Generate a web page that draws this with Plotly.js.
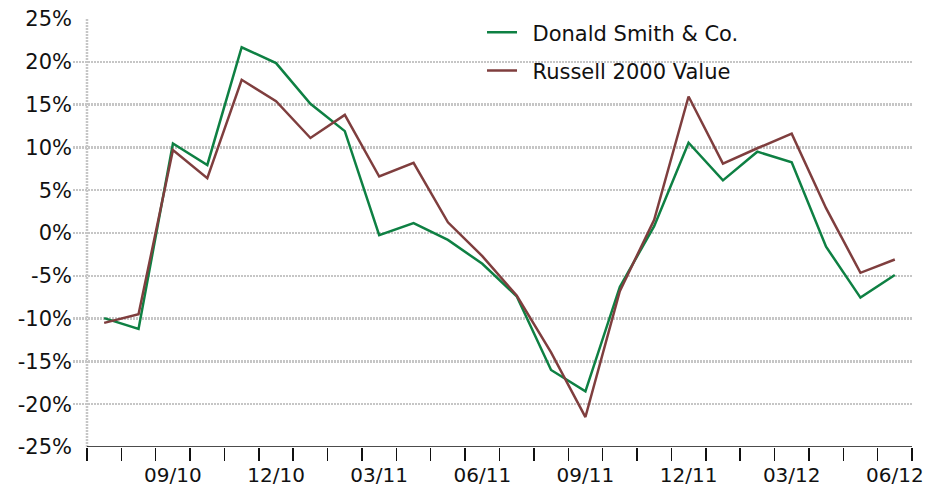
<!DOCTYPE html>
<html>
<head>
<meta charset="utf-8">
<script src="https://cdn.plot.ly/plotly-3.0.1.min.js"></script>
<style>html,body{margin:0;padding:0;background:#fff}#chart{width:927px;height:487px}</style>
</head>
<body>
<div id="chart"></div>
<script>
// Month-end periods (Jul 2010 .. Jun 2012)
const periods = ['07/10','08/10','09/10','10/10','11/10','12/10','01/11','02/11','03/11','04/11','05/11','06/11',
                 '07/11','08/11','09/11','10/11','11/11','12/11','01/12','02/12','03/12','04/12','05/12','06/12'];
const donaldSmith = [-9.95,-11.2,10.45,7.95,21.7,19.85,15.1,11.9,-0.25,1.15,-0.8,-3.6,
                     -7.4,-16.0,-18.5,-6.3,0.8,10.55,6.15,9.5,8.25,-1.6,-7.55,-4.9];
const russell2000Value = [-10.5,-9.5,9.7,6.4,17.9,15.4,11.1,13.8,6.6,8.2,1.25,-2.7,
                          -7.3,-13.95,-21.5,-6.8,1.55,15.95,8.1,9.9,11.6,2.9,-4.65,-3.1];
const xTickLabels = ['09/10','12/10','03/11','06/11','09/11','12/11','03/12','06/12'];
const yTickValues = [-25,-20,-15,-10,-5,0,5,10,15,20,25];
const seriesNames = ['Donald Smith & Co.','Russell 2000 Value'];

const xPos = periods.map((p, i) => i + 0.5);
const xLabelPos = xTickLabels.map(t => periods.indexOf(t) + 0.5);
const monthBounds = periods.map((p, i) => i).concat([periods.length]);

const family = 'DejaVu Sans, Verdana, sans-serif';
const xFont = {family: family, size: 20, color: '#111'};
const yFont = {family: family, size: 21, color: '#111'};
const legendFont = {family: family, size: 21, color: '#111'};

const traces = [
  {x: xPos, y: donaldSmith, text: periods, name: '\u2002' + seriesNames[0], type: 'scatter', mode: 'lines',
   line: {color: '#0e8043', width: 2.5}, legendgroup: 'a'},
  {x: xPos, y: russell2000Value, text: periods, name: '\u2002' + seriesNames[1], type: 'scatter', mode: 'lines',
   line: {color: '#7f3e3e', width: 2.5}, legendgroup: 'b'}
];

const gridColor = '#c6c6c6';
const layout = {
  width: 927, height: 487,
  margin: {l: 73, r: 15, t: 17, b: 40, pad: 0},
  paper_bgcolor: '#fff', plot_bgcolor: '#fff',
  font: xFont,
  showlegend: true,
  legend: {x: 0.4875, y: 1.016, xanchor: 'left', yanchor: 'top', bgcolor: 'rgba(0,0,0,0)',
           font: legendFont, traceorder: 'grouped', tracegroupgap: 8},
  xaxis: {
    range: [-0.407, 24], tickmode: 'array', tickvals: xLabelPos, ticktext: xTickLabels,
    showgrid: false, zeroline: false, showline: false,
    ticks: 'outside', ticklen: 10, tickwidth: 1, tickcolor: 'rgba(0,0,0,0)',
    ticklabeloverflow: 'allow',
    minor: {tickmode: 'array', tickvals: monthBounds, ticks: 'outside', ticklen: 13, tickwidth: 1.5,
            tickcolor: '#111', showgrid: false},
    tickfont: xFont, fixedrange: true
  },
  yaxis: {
    range: [-25, 25], tickmode: 'array', tickvals: yTickValues,
    ticktext: yTickValues.map(v => v + '%'),
    showgrid: true, gridcolor: gridColor, gridwidth: 2.5, griddash: '2px,1px',
    zeroline: false, showline: false, ticks: '', tickfont: yFont, fixedrange: true
  },
  shapes: [
    {type: 'line', xref: 'x', yref: 'paper', x0: 0, x1: 0, y0: 0, y1: 1,
     line: {color: gridColor, width: 2.5, dash: '2px,1px'}, layer: 'below'},
    {type: 'line', xref: 'x', yref: 'y', x0: 0, x1: 24, y0: -25, y1: -25,
     line: {color: '#111', width: 1.5}}
  ]
};

Plotly.newPlot('chart', traces, layout, {staticPlot: true, displayModeBar: false});
</script>
</body>
</html>
